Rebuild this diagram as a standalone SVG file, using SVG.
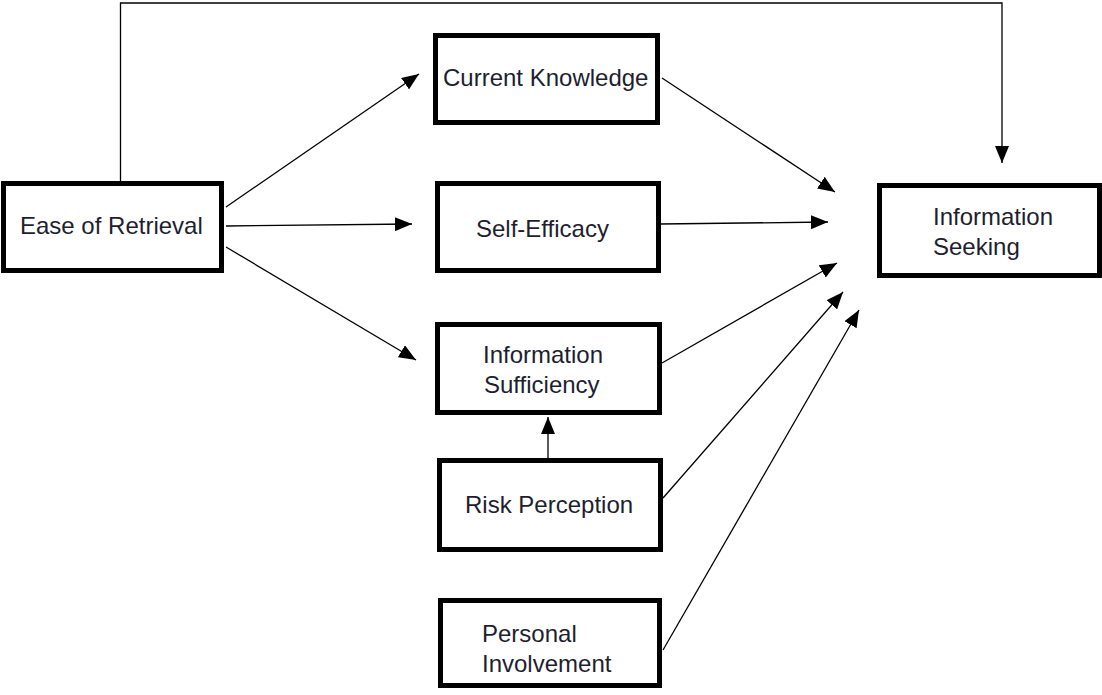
<svg xmlns="http://www.w3.org/2000/svg" width="1102" height="695" viewBox="0 0 1102 695">
<style>
.box{fill:#fff;stroke:#000;stroke-width:5}
.t{font-family:"Liberation Sans",Arial,sans-serif;font-size:24px;fill:#1e1e30}
.c{fill:none;stroke:#000;stroke-width:1.3}
</style>
<defs>
<marker id="ah" markerUnits="userSpaceOnUse" markerWidth="18" markerHeight="14" refX="17" refY="7" orient="auto">
<path d="M0,0 L17,7 L0,14 Z" fill="#000"/>
</marker>
</defs>
<rect width="1102" height="695" fill="#fff"/>
<g id="connectors">
<polyline class="c" points="120.5,181 120.5,3 1002,3 1002,163" marker-end="url(#ah)"/>
<line class="c" x1="226" y1="207" x2="419" y2="74" marker-end="url(#ah)"/>
<line class="c" x1="226" y1="226" x2="412" y2="224" marker-end="url(#ah)"/>
<line class="c" x1="226" y1="247" x2="416" y2="360" marker-end="url(#ah)"/>
<line class="c" x1="662" y1="78" x2="835" y2="192" marker-end="url(#ah)"/>
<line class="c" x1="660" y1="224" x2="828" y2="222" marker-end="url(#ah)"/>
<line class="c" x1="662" y1="363" x2="837" y2="263" marker-end="url(#ah)"/>
<line class="c" x1="663" y1="498" x2="843" y2="292" marker-end="url(#ah)"/>
<line class="c" x1="663" y1="650" x2="859" y2="310" marker-end="url(#ah)"/>
<line class="c" x1="548" y1="458" x2="548" y2="417" marker-end="url(#ah)"/>
</g>
<g id="ease">
<rect class="box" x="3.5" y="183.5" width="218" height="87"/>
<text class="t" x="20" y="234">Ease of Retrieval</text>
</g>
<g id="knowledge">
<rect class="box" x="435.5" y="35.5" width="222" height="87"/>
<text class="t" x="443" y="86">Current Knowledge</text>
</g>
<g id="efficacy">
<rect class="box" x="437.5" y="183.5" width="221" height="87"/>
<text class="t" x="476" y="237">Self-Efficacy</text>
</g>
<g id="sufficiency">
<rect class="box" x="437.5" y="324.5" width="222" height="88"/>
<text class="t" x="483" y="363">Information</text>
<text class="t" x="484" y="393">Sufficiency</text>
</g>
<g id="risk">
<rect class="box" x="439.5" y="460.5" width="221" height="89"/>
<text class="t" x="465" y="513">Risk Perception</text>
</g>
<g id="involvement">
<rect class="box" x="440.5" y="600.5" width="219" height="85"/>
<text class="t" x="482" y="642">Personal</text>
<text class="t" x="482" y="672">Involvement</text>
</g>
<g id="seeking">
<rect class="box" x="879.5" y="185.5" width="220" height="90"/>
<text class="t" x="933" y="225">Information</text>
<text class="t" x="933" y="255">Seeking</text>
</g>
</svg>
